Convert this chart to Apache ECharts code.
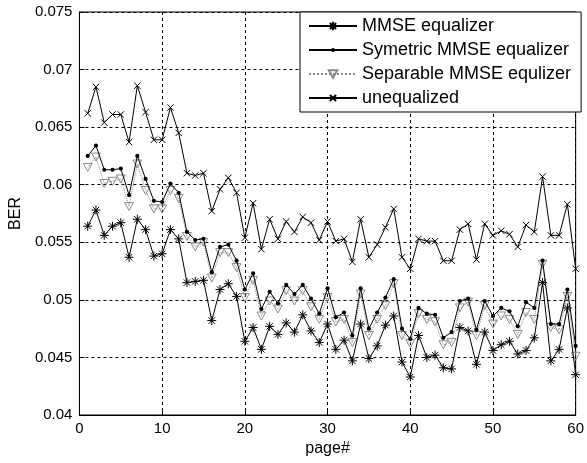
<!DOCTYPE html>
<html>
<head>
<meta charset="utf-8">
<script src="https://cdn.jsdelivr.net/npm/echarts@6/dist/echarts.min.js"></script>
<style>
html,body{margin:0;padding:0;background:#fff;}
#chart{width:587px;height:463px;}
</style>
</head>
<body>
<div id="chart"></div>
<script>
// ---- data ----
var pages = [1,2,3,4,5,6,7,8,9,10,11,12,13,14,15,16,17,18,19,20,21,22,23,24,25,26,27,28,29,30,
             31,32,33,34,35,36,37,38,39,40,41,42,43,44,45,46,47,48,49,50,51,52,53,54,55,56,57,58,59,60];

var mmse = [0.0564,0.0578,0.0556,0.0564,0.0567,0.0537,0.0570,0.0561,0.0538,0.0540,
            0.0561,0.0553,0.0515,0.0516,0.0517,0.0482,0.0509,0.0514,0.0503,0.0464,
            0.0476,0.0457,0.0477,0.0470,0.0480,0.0472,0.0487,0.0473,0.0463,0.0479,
            0.0457,0.0465,0.0447,0.0479,0.0449,0.0460,0.0478,0.0486,0.0446,0.0433,
            0.0469,0.0450,0.0452,0.0441,0.0440,0.0476,0.0473,0.0444,0.0472,0.0456,
            0.0461,0.0464,0.0453,0.0456,0.0467,0.0515,0.0447,0.0457,0.0493,0.0435];

var symMmse = [0.0625,0.0634,0.0613,0.0613,0.0614,0.0591,0.0625,0.0605,0.0586,0.0585,
               0.0601,0.0593,0.0559,0.0552,0.0553,0.0524,0.0546,0.0548,0.0534,0.0509,
               0.0523,0.0492,0.0507,0.0497,0.0513,0.0505,0.0513,0.0501,0.0488,0.0510,
               0.0485,0.0489,0.0469,0.0510,0.0475,0.0489,0.0502,0.0518,0.0475,0.0466,
               0.0493,0.0488,0.0487,0.0467,0.0472,0.0499,0.0501,0.0474,0.0499,0.0486,
               0.0493,0.0490,0.0477,0.0498,0.0493,0.0534,0.0479,0.0479,0.0509,0.0460];

var sepMmse = [0.0615,0.0624,0.0601,0.0603,0.0605,0.0581,0.0618,0.0595,0.0579,0.0579,
               0.0595,0.0588,0.0555,0.0546,0.0550,0.0519,0.0541,0.0541,0.0528,0.0502,
               0.0517,0.0486,0.0499,0.0492,0.0508,0.0499,0.0508,0.0494,0.0483,0.0502,
               0.0481,0.0483,0.0463,0.0505,0.0469,0.0483,0.0495,0.0514,0.0469,0.0462,
               0.0488,0.0483,0.0481,0.0461,0.0463,0.0493,0.0498,0.0469,0.0495,0.0479,
               0.0486,0.0483,0.0470,0.0489,0.0483,0.0531,0.0476,0.0474,0.0503,0.0451];

var unequalized = [0.0662,0.0685,0.0654,0.0661,0.0661,0.0637,0.0686,0.0663,0.0639,0.0639,
                   0.0667,0.0645,0.0610,0.0608,0.0610,0.0577,0.0596,0.0606,0.0593,0.0554,
                   0.0584,0.0544,0.0570,0.0553,0.0568,0.0559,0.0572,0.0567,0.0552,0.0568,
                   0.0551,0.0553,0.0533,0.0570,0.0537,0.0548,0.0563,0.0579,0.0537,0.0527,
                   0.0553,0.0551,0.0551,0.0534,0.0534,0.0561,0.0566,0.0535,0.0566,0.0556,
                   0.0560,0.0557,0.0546,0.0565,0.0559,0.0607,0.0556,0.0556,0.0583,0.0527];

var seriesNames = ['MMSE equalizer','Symetric MMSE equalizer','Separable MMSE equlizer','unequalized'];
var xTicks = [0,10,20,30,40,50,60];
var yTicks = [0.04,0.045,0.05,0.055,0.06,0.065,0.07,0.075];

// ---- chart ----
function pairs(vals){ return pages.map(function(p,i){ return [p, vals[i]]; }); }

// all marker paths share a 10x10 frame so relative sizes carry over to the legend
var asterisk = 'path://M0,0M10,10M5,0.5L5,9.5M0.5,5L9.5,5M1.8,1.8L8.2,8.2M8.2,1.8L1.8,8.2';
var xmark = 'path://M0,0M10,10M1.8,1.8L8.2,8.2M8.2,1.8L1.8,8.2';
var triDown = 'path://M0,0M10,10M0.6,1L9.4,1L5,9Z';
var dot = 'path://M0,0M10,10M2.9,5A2.1,2.1,0,1,1,7.1,5A2.1,2.1,0,1,1,2.9,5Z';

var FONT = '"Liberation Sans", Arial, Helvetica, sans-serif';

var chart = echarts.init(document.getElementById('chart'), null, {renderer:'canvas'});
chart.setOption({
  animation: false,
  backgroundColor: '#fff',
  textStyle: { fontFamily: FONT, color: '#000' },
  grid: { left: 76, right: 4, top: 12, bottom: 48, show: true, borderColor: '#000', borderWidth: 1, backgroundColor: 'transparent' },
  legend: {
    orient: 'vertical',
    left: 300, top: 12,
    padding: [5, 10, 5, 8],
    itemGap: 6,
    itemWidth: 48,
    itemHeight: 12,
    backgroundColor: '#fff',
    borderColor: '#000',
    borderWidth: 1,
    borderRadius: 0,
    textStyle: { fontFamily: FONT, fontSize: 18, lineHeight: 18, color: '#000' },
    data: seriesNames
  },
  xAxis: {
    type: 'value', min: xTicks[0], max: xTicks[xTicks.length-1], interval: 10,
    name: 'page#', nameLocation: 'middle', nameGap: 24,
    nameTextStyle: { fontFamily: FONT, fontSize: 16, color: '#000' },
    axisLine: { show: true, lineStyle: { color: '#000', width: 1 } },
    axisTick: { show: true, inside: true, length: 5, lineStyle: { color: '#000' } },
    axisLabel: { fontFamily: FONT, fontSize: 15, color: '#000', margin: 6 },
    splitLine: { show: true, lineStyle: { color: '#000', type: [3, 3], width: 1 } }
  },
  yAxis: {
    type: 'value', min: yTicks[0], max: yTicks[yTicks.length-1], interval: 0.005,
    name: 'BER', nameLocation: 'middle', nameGap: 52,
    nameTextStyle: { fontFamily: FONT, fontSize: 16, color: '#000' },
    axisLine: { show: true, lineStyle: { color: '#000', width: 1 } },
    axisTick: { show: true, inside: true, length: 5, lineStyle: { color: '#000' } },
    axisLabel: { fontFamily: FONT, fontSize: 15, color: '#000', margin: 7,
      formatter: function(v){ return String(Number(v.toFixed(3))); } },
    splitLine: { show: true, lineStyle: { color: '#000', type: [3, 3], width: 1 } }
  },
  series: [
    {
      name: seriesNames[0], type: 'line', data: pairs(mmse),
      symbol: asterisk, symbolSize: 10, showAllSymbol: true,
      lineStyle: { color: '#000', width: 1 },
      itemStyle: { color: 'rgba(0,0,0,0)', borderColor: '#000', borderWidth: 1 },
      z: 3
    },
    {
      name: seriesNames[1], type: 'line', data: pairs(symMmse),
      symbol: dot, symbolSize: 10, showAllSymbol: true,
      lineStyle: { color: '#000', width: 1 },
      itemStyle: { color: '#000', borderColor: '#000', borderWidth: 0 },
      z: 4
    },
    {
      name: seriesNames[2], type: 'line', data: pairs(sepMmse),
      symbol: triDown, symbolSize: 10, showAllSymbol: true,
      lineStyle: { color: '#8a8a8a', width: 1, type: 'dotted' },
      itemStyle: { color: 'rgba(0,0,0,0)', borderColor: '#8a8a8a', borderWidth: 1 },
      z: 2
    },
    {
      name: seriesNames[3], type: 'line', data: pairs(unequalized),
      symbol: xmark, symbolSize: 10, showAllSymbol: true,
      lineStyle: { color: '#000', width: 1 },
      itemStyle: { color: 'rgba(0,0,0,0)', borderColor: '#000', borderWidth: 1 },
      z: 3
    }
  ]
});
</script>
</body>
</html>
